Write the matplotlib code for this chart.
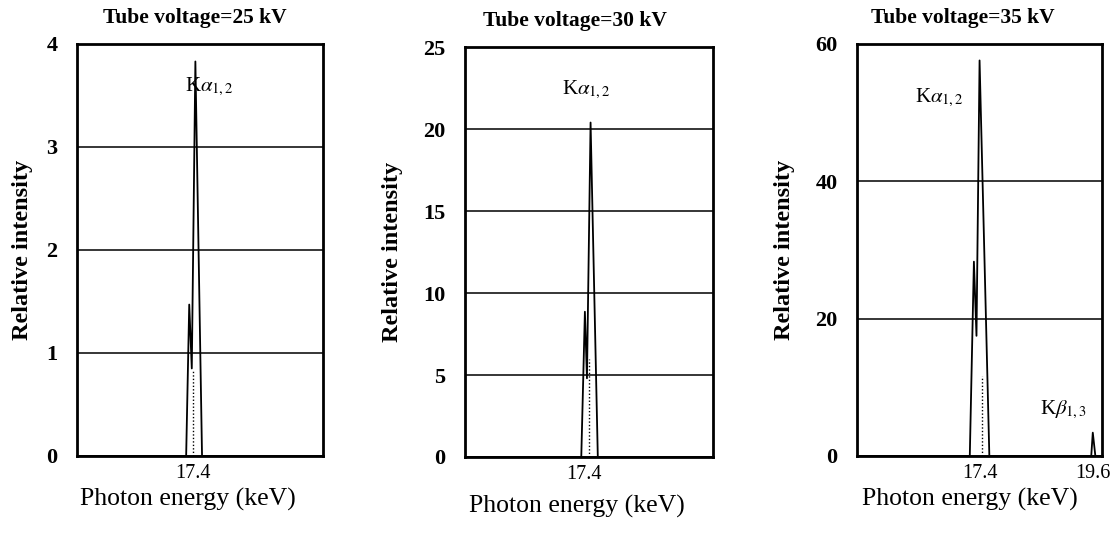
import matplotlib

matplotlib.use("Agg")
import matplotlib.pyplot as plt

plt.rcParams["font.family"] = ["Liberation Serif", "DejaVu Serif"]
plt.rcParams["mathtext.fontset"] = "stix"

# values (energy in keV, relative intensity)
voltages = [25, 30, 35]

energy_25 = [15.13, 17.26, 17.32, 17.37, 17.44, 17.57, 19.93]
intensity_25 = [0, 0, 1.47, 0.85, 3.83, 0, 0]
energy_30 = [15.10, 17.35, 17.42, 17.46, 17.53, 17.67, 19.90]
intensity_30 = [0, 0, 8.86, 4.8, 20.4, 0, 0]
energy_35 = [15.02, 17.21, 17.29, 17.34, 17.40, 17.59, 19.57, 19.60, 19.65, 19.78]
intensity_35 = [0, 0, 28.3, 17.5, 57.6, 0, 0, 3.4, 0, 0]

# dotted component under the K-alpha peak: (energy, height)
dotted_25 = (17.40, 0.83)
dotted_30 = (17.50, 6.0)
dotted_35 = (17.44, 11.6)

xlims = [(15.13, 19.93), (15.10, 19.90), (15.02, 19.78)]
xticks = [[17.4], [17.4], [17.4, 19.6]]
yticks = [[0, 1, 2, 3, 4], [0, 5, 10, 15, 20, 25], [0, 20, 40, 60]]

# peak labels: (text, energy, intensity)
labels_25 = [(r"K$\alpha_{1,2}$", 17.24, 3.58)]
labels_30 = [(r"K$\alpha_{1,2}$", 16.97, 22.4)]
labels_35 = [(r"K$\alpha_{1,2}$", 16.14, 52.2), (r"K$\beta_{1,3}$", 18.57, 6.7)]

energies = [energy_25, energy_30, energy_35]
intensities = [intensity_25, intensity_30, intensity_35]
dotted = [dotted_25, dotted_30, dotted_35]
peak_labels = [labels_25, labels_30, labels_35]

fig = plt.figure(figsize=(11.16, 5.33), dpi=100)
boxes = [(0.069, 0.1445, 0.2204, 0.773), (0.4167, 0.1426, 0.2222, 0.769), (0.768, 0.1445, 0.2195, 0.773)]
title_x = [0.478, 0.444, 0.433]
ylabel_x = [-0.18, -0.25, -0.253]
xlabel_pos = [(0.449, -0.078), (0.452, -0.092), (0.461, -0.078)]

for i, v in enumerate(voltages):
    ax = fig.add_axes(boxes[i])
    ax.plot(energies[i], intensities[i], color="black", linewidth=1.3)
    e, h = dotted[i]
    ax.plot([e, e], [0, h], color="black", linewidth=1.0, linestyle=(0, (1, 1.5)))
    for text, x, y in peak_labels[i]:
        ax.text(x, y, text, fontsize=15, va="center", ha="left")

    ax.set_xlim(*xlims[i])
    ax.set_ylim(yticks[i][0], yticks[i][-1])
    ax.set_xticks(xticks[i])
    ax.set_xticklabels([f"{t:.1f}" for t in xticks[i]], fontsize=14.5)
    ax.set_yticks(yticks[i])
    ax.set_yticklabels([str(t) for t in yticks[i]], fontsize=16, fontweight="bold")
    ax.tick_params(length=0)
    ax.tick_params(axis="y", pad=14)
    ax.tick_params(axis="x", pad=6)
    ax.grid(axis="y", color="black", linewidth=1.1)
    for spine in ax.spines.values():
        spine.set_linewidth(2.0)

    ax.set_ylabel("Relative intensity", fontsize=17.5, fontweight="bold")
    ax.yaxis.set_label_coords(ylabel_x[i], 0.5)
    ax.set_xlabel("Photon energy (keV)", fontsize=18.5)
    ax.xaxis.set_label_coords(*xlabel_pos[i])
    ax.text(title_x[i], 1.063, f"Tube voltage={v} kV", transform=ax.transAxes,
            ha="center", va="center", fontsize=15.5, fontweight="bold")

fig.savefig("out.png", dpi=100)
